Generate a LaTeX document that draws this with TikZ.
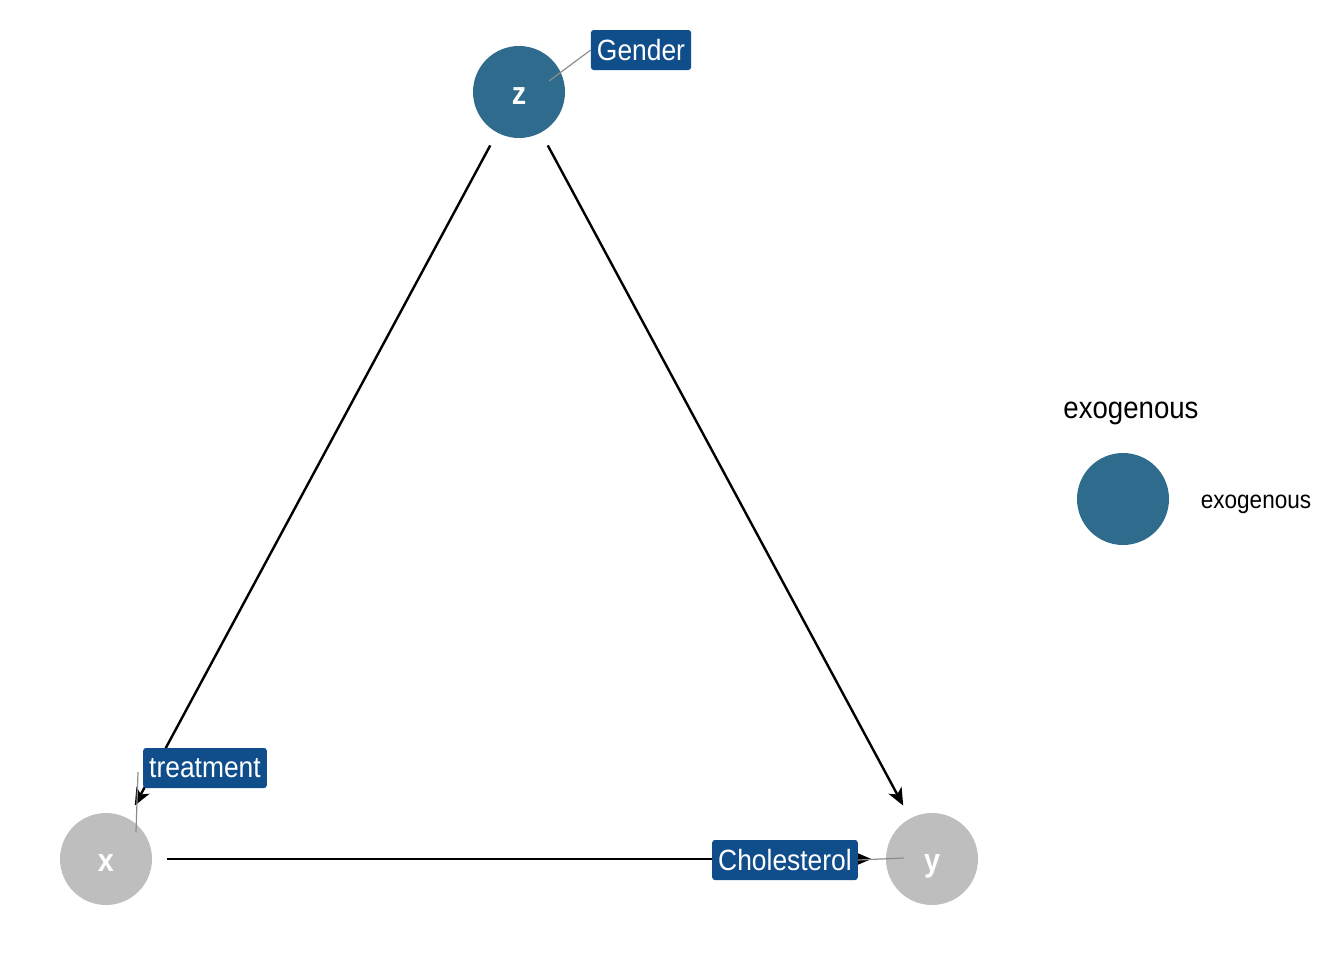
\documentclass[tikz,border=0pt]{standalone}
\usepackage{fontspec}
\setmainfont{Liberation Sans}[FakeStretch=0.9]
\usetikzlibrary{arrows.meta}
\definecolor{exo}{RGB}{47,107,140}
\definecolor{lat}{RGB}{190,190,190}
\definecolor{lab}{RGB}{16,78,139}
\begin{document}
\begin{tikzpicture}[x=0.75pt,y=-0.75pt,
  dagnode/.style={circle,minimum size=69pt,inner sep=0pt,outer sep=11pt,text=white,font=\fontsize{24}{26}\selectfont\bfseries,text height=18pt,text depth=0pt},
  exonode/.style={dagnode,fill=exo},
  latnode/.style={dagnode,fill=lat},
  edge/.style={draw=black,line width=1.8pt,-{Stealth[length=13pt,width=11pt,inset=3.5pt]}},
  lbl/.style={fill=lab,text=white,rounded corners=2pt,inner xsep=4.5pt,inner ysep=3pt,font=\fontsize{22}{24}\selectfont,minimum height=30pt},
  leader/.style={draw=gray!90,line width=0.9pt}]
\useasboundingbox (0,0) rectangle (1344,960);
\node[exonode] (z) at (519,92) {z};
\node[latnode] (x) at (106,859) {x};
\node[latnode] (y) at (932,859) {y};
\draw[edge] (z) -- (x);
\draw[edge] (z) -- (y);
\draw[edge] (x) -- (y);
\node[lbl] (lg) at (641,50) {Gender};
\node[lbl] (lt) at (205,768) {treatment};
\node[lbl] (lc) at (785,860) {Cholesterol};
\coordinate (gz) at (549,81);
\coordinate (tx) at (136,832);
\coordinate (cy) at (904,858);
\draw[leader] (lg.west) -- (gz);
\draw[leader] (138,772) -- (tx);
\draw[leader] (lc.east) -- (cy);
\node[font=\fontsize{23}{26}\selectfont] (legt) at (1131,413) {exogenous};
\node[circle,minimum size=69pt,inner sep=0pt,fill=exo] (legc) at (1123,499) {};
\node[font=\fontsize{18.8}{22}\selectfont] (legl) at (1256,504) {exogenous};
\end{tikzpicture}
\end{document}
